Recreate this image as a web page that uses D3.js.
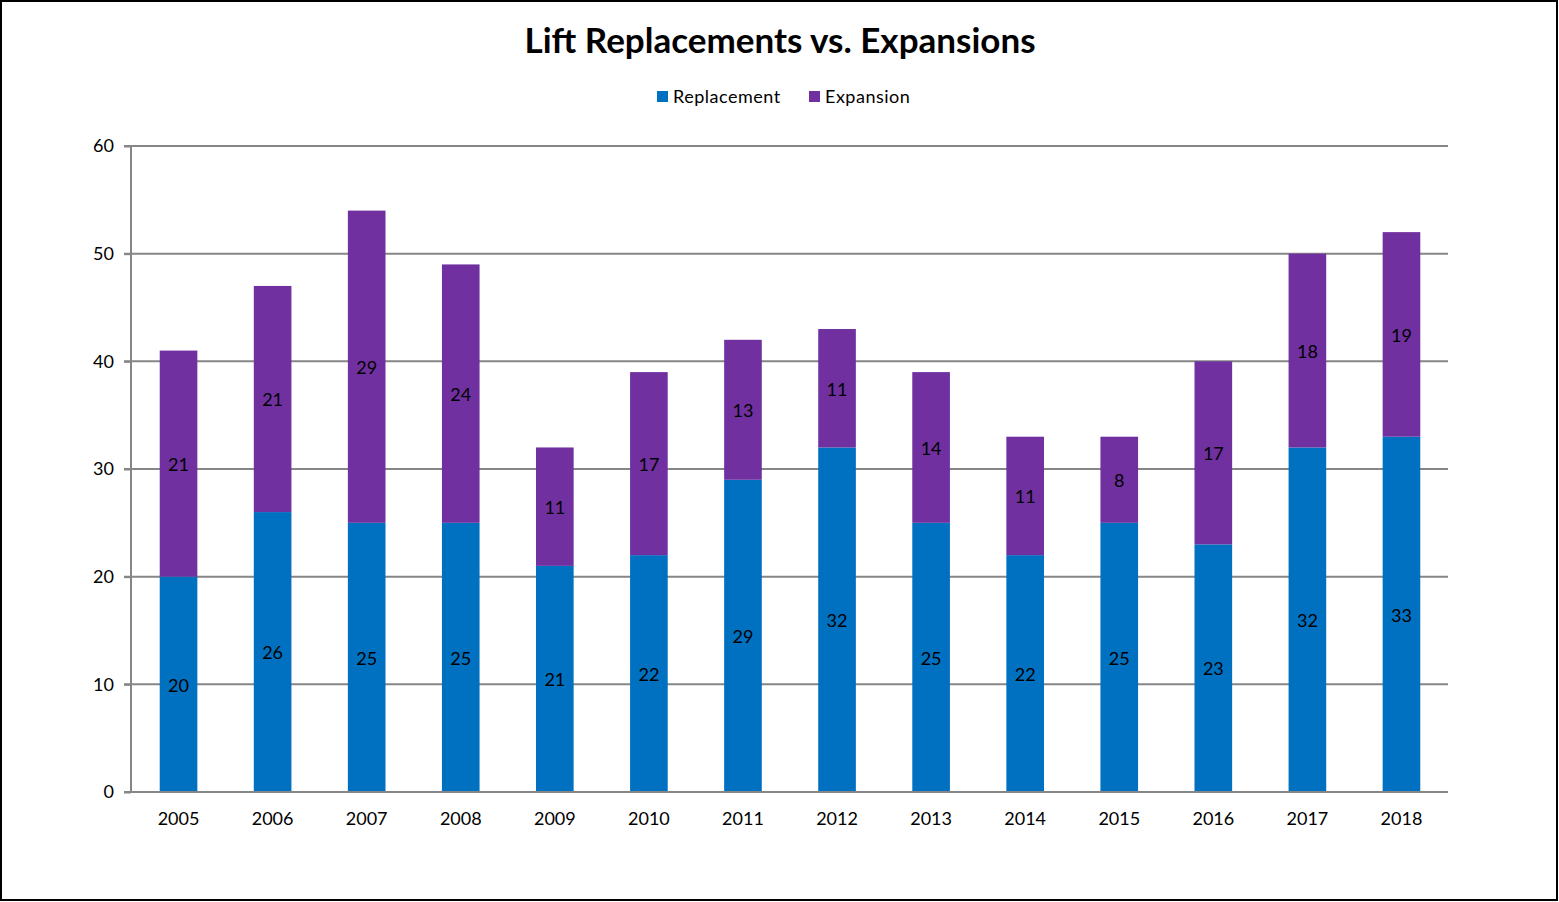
<!DOCTYPE html>
<html>
<head>
<meta charset="utf-8">
<script src="https://cdnjs.cloudflare.com/ajax/libs/d3/7.8.5/d3.min.js"></script>
<style>
  html, body { margin: 0; padding: 0; background: #fff; }
  svg { display: block; font-family: Lato, "Open Sans", sans-serif; }
</style>
</head>
<body>
<svg id="chart" width="1559" height="902"></svg>
<script>
const years = ["2005","2006","2007","2008","2009","2010","2011","2012","2013","2014","2015","2016","2017","2018"];
const replacement = [20, 26, 25, 25, 21, 22, 29, 32, 25, 22, 25, 23, 32, 33];
const expansion = [21, 21, 29, 24, 11, 17, 13, 11, 14, 11, 8, 17, 18, 19];
const seriesNames = ["Replacement", "Expansion"];
const colors = ["#0070C0", "#7030A0"];
const yTicks = [0, 10, 20, 30, 40, 50, 60];

const width = 1559, height = 902;
const margin = { top: 146, right: 111, bottom: 110, left: 131 };

const svg = d3.select("#chart");

// outer border
svg.append("rect")
  .attr("x", 1).attr("y", 1)
  .attr("width", width - 3).attr("height", height - 3)
  .attr("fill", "#fff").attr("stroke", "#000").attr("stroke-width", 2);

const x = d3.scaleBand()
  .domain(years)
  .range([margin.left, width - margin.right])
  .paddingInner(0.6).paddingOuter(0.3);

const y = d3.scaleLinear()
  .domain([0, 60])
  .range([height - margin.bottom, margin.top]);

// gridlines
svg.append("g")
  .selectAll("line")
  .data(yTicks.filter(d => d > 0))
  .join("line")
  .attr("x1", margin.left - 7).attr("x2", width - margin.right)
  .attr("y1", d => y(d)).attr("y2", d => y(d))
  .attr("stroke", "#868686").attr("stroke-width", 2);

const table = years.map((yr, i) => ({ year: yr, Replacement: replacement[i], Expansion: expansion[i] }));
const stacked = d3.stack().keys(seriesNames)(table);

const layers = svg.append("g").selectAll("g")
  .data(stacked)
  .join("g")
  .attr("fill", (d, i) => colors[i]);

layers.selectAll("rect")
  .data(d => d)
  .join("rect")
  .attr("x", d => x(d.data.year) + 0.5)
  .attr("width", x.bandwidth())
  .attr("y", d => y(d[1]))
  .attr("height", d => y(d[0]) - y(d[1]));

// data labels
layers.selectAll("text")
  .data(d => d)
  .join("text")
  .attr("x", d => x(d.data.year) + x.bandwidth() / 2 + 0.5)
  .attr("y", d => y((d[0] + d[1]) / 2) + 1)
  .attr("dy", "0.35em")
  .attr("text-anchor", "middle")
  .attr("fill", "#000")
  .style("font-size", "18px")
  .text(d => d[1] - d[0]);

// y axis
const yAxis = svg.append("g")
  .attr("transform", `translate(${margin.left},0)`)
  .call(d3.axisLeft(y).tickValues(yTicks).tickSize(7).tickPadding(10));
yAxis.select(".domain").attr("stroke", "#868686").attr("stroke-width", 2)
  .attr("d", `M0,${y(60)}V${y(0)}`);
yAxis.selectAll(".tick line").attr("stroke", "#868686").attr("stroke-width", 2);
yAxis.selectAll(".tick text").style("font-size", "18px").attr("fill", "#000")
  .style("font-family", "Lato, sans-serif");

// x axis
const xAxis = svg.append("g")
  .attr("transform", `translate(0,${y(0)})`)
  .call(d3.axisBottom(x).tickSize(0).tickPadding(20));
xAxis.select(".domain").attr("stroke", "#868686").attr("stroke-width", 2)
  .attr("d", `M${margin.left - 7},0H${width - margin.right}`);
xAxis.selectAll(".tick").attr("transform", d => `translate(${x(d) + x.bandwidth() / 2 + 0.5},0)`);
xAxis.selectAll(".tick text").style("font-size", "18px").attr("fill", "#000")
  .style("font-family", "Lato, sans-serif");

// title
svg.append("text")
  .attr("x", 780).attr("y", 53)
  .attr("text-anchor", "middle")
  .style("font-size", "35px").style("font-weight", "bold")
  .text("Lift Replacements vs. Expansions");

// legend
const legend = svg.append("g").attr("transform", "translate(657,97)");
const legendOffsets = [0, 152];
seriesNames.forEach((name, i) => {
  const g = legend.append("g").attr("transform", `translate(${legendOffsets[i]},0)`);
  g.append("rect").attr("x", 0).attr("y", -6).attr("width", 11).attr("height", 11).attr("fill", colors[i]);
  g.append("text").attr("x", 16).attr("y", 0).attr("dy", "0.35em")
    .style("font-size", "18px").style("letter-spacing", "0.5px").text(name);
});
</script>
</body>
</html>
